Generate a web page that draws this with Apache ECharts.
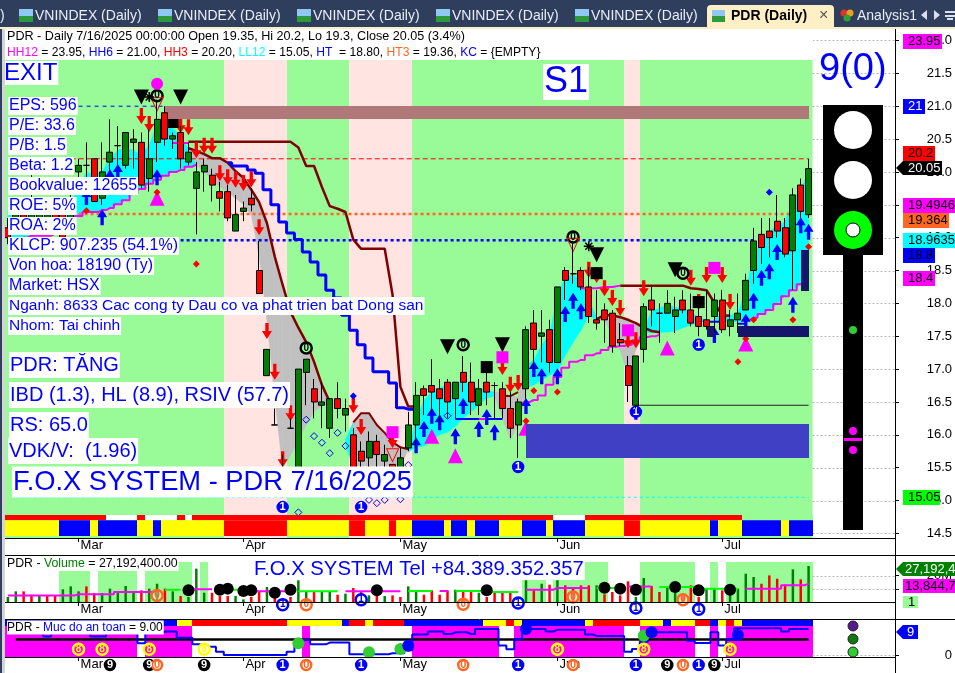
<!DOCTYPE html>
<html><head><meta charset="utf-8">
<style>html,body{margin:0;padding:0;background:#fff}#c{width:955px;height:673px}</style>
<script src="https://cdn.jsdelivr.net/npm/echarts@6/dist/echarts.min.js"></script>
</head><body><div id="c"></div>
<script>
// ---------- DATA ----------
const barCount = 103;
const monthIdx = [9,30,50,70,91];
const monthLabels = ['Mar','Apr','May','Jun','Jul'];
const priceTicks = [14.5,15,15.5,16,16.5,17,17.5,18,18.5,19,19.5,20,20.5,21,21.5,22];
const opens = [19.15,19.20,19.35,19.30,19.25,19.20,19.40,19.36,19.20,20.00,20.10,20.20,19.60,20.15,20.40,20.10,20.45,20.45,19.90,20.45,20.90,20.50,20.60,20.15,19.75,20.00,19.95,19.70,19.70,19.10,19.40,19.60,18.50,16.90,16.15,15.45,16.10,15.20,16.95,16.70,16.45,16.10,16.55,16.30,16.00,15.75,15.65,15.90,15.60,15.55,15.50,15.80,16.15,16.70,16.75,16.70,16.80,16.55,16.95,16.80,16.45,16.80,16.75,16.70,16.40,16.15,16.70,17.70,17.50,17.60,17.10,18.50,18.45,18.50,18.25,17.75,17.90,17.85,17.45,17.05,16.45,17.30,18.05,17.85,17.85,17.80,18.05,17.90,17.80,17.75,17.80,18.05,17.65,17.75,17.90,18.50,19.05,19.10,19.25,19.15,18.80,19.80,19.35];
const closes = [19.00,19.35,19.25,19.35,19.36,19.35,19.30,19.00,19.60,20.10,20.10,19.55,20.00,20.30,20.40,20.60,20.50,19.80,20.20,20.80,20.50,20.55,20.20,20.30,20.00,20.10,19.80,19.60,19.30,19.35,19.45,19.50,18.15,17.30,16.15,15.15,16.10,17.00,17.15,16.50,16.50,16.55,16.40,16.40,15.50,15.60,15.90,15.70,15.70,15.40,15.65,16.15,16.60,16.60,16.65,16.55,16.50,16.80,16.80,16.50,16.70,16.65,16.75,16.40,16.10,16.50,17.60,17.30,17.55,17.10,18.25,18.35,18.45,18.25,17.80,17.70,17.75,17.35,17.40,16.75,17.20,17.95,17.90,17.85,18.00,17.90,17.90,17.70,17.65,17.65,18.05,17.60,17.75,17.85,18.35,18.95,18.85,19.00,19.10,18.75,19.65,19.40,20.05];
const highs = [19.3,19.4,19.45,19.95,19.5,19.45,19.5,19.5,19.7,20.2,20.45,20.2,20.45,20.8,20.7,20.6,20.65,20.6,20.65,21.1,21.0,20.6,20.7,20.45,20.15,20.2,20.05,19.85,19.8,19.65,19.55,19.75,18.95,17.3,16.4,15.7,16.25,17.0,17.15,16.85,16.8,16.55,16.8,16.55,16.1,15.9,16.05,16.0,15.85,15.55,15.8,16.35,16.8,16.75,17.15,16.85,16.85,16.8,17.2,17.1,16.85,16.95,16.8,16.8,16.65,16.55,17.65,17.9,17.9,17.75,18.25,18.55,18.95,18.55,18.55,18.2,18.0,17.9,17.7,17.2,17.2,18.0,18.25,18.0,18.2,18.1,18.2,18.15,17.95,18.2,18.15,18.2,17.9,18.15,18.45,19.15,19.3,19.3,19.65,19.3,19.75,19.9,20.2];
const lows = [18.9,19.1,19.1,19.2,19.1,19.1,19.2,18.95,19.1,19.9,19.9,19.55,19.5,20.0,20.1,20.05,20.05,19.75,19.7,20.15,20.4,20.35,20.05,20.1,19.05,19.7,19.55,19.4,19.25,19.1,19.25,19.4,18.15,16.9,16.15,15.05,16.1,15.2,16.45,16.25,16.1,15.95,16.25,16.05,15.3,15.4,15.45,15.5,15.45,15.35,15.45,15.75,15.8,16.3,16.35,16.2,16.25,16.25,16.65,16.3,16.3,16.45,16.25,16.25,15.95,15.65,16.55,17.0,17.1,16.95,17.1,18.05,18.3,18.2,17.7,17.6,17.4,17.25,17.35,16.5,16.4,17.1,17.65,17.4,17.85,17.55,17.85,17.65,17.5,17.6,17.55,17.55,17.5,17.55,17.9,18.3,18.6,18.7,19.0,18.7,18.2,19.3,19.3];

// fills between the trend lines
const cyan1Top = [19.42,19.45,19.45,19.47,19.47,19.50,19.50,19.50,19.57,19.73,20.00,19.95,20.00,20.21,20.33,20.36,20.33,20.26,20.41,20.71,20.79,20.67,20.52,20.36,20.18];
const cyan1Bot = [18.92,18.97,19.00,19.03,19.03,19.03,19.06,19.12,19.24,19.33,19.39,19.39,19.42,19.45,19.51,19.57,19.67,19.74,19.82,19.88,19.94,20.00,20.03,20.08,20.11];
const gray1Top = [20.36,20.32,20.27,20.21,20.21,20.14,20.01,19.91,19.73,19.54,19.22,18.71,18.28,17.87,17.63,17.41,17.11,16.76,16.50];
const gray1Bot = [20.33,20.11,20.00,19.88,19.77,19.69,19.60,19.50,19.34,18.73,17.75,16.53,15.49,15.69,15.92,16.15,16.35,16.44,16.48];
const wedgeTop = [15.92,16.19];
const wedgeBot = [15.84,15.52];
const gray2Top = [16.19,16.33,16.33,16.15,16.03,15.89,15.81,15.78];
const gray2Bot = [15.52,15.52,15.52,15.52,15.52,15.52,15.52,15.77];
const cyan2Top = [15.78,16.23,16.53,16.65,16.71,16.76,16.79,16.80,16.76,16.71,16.68,16.65];
const cyan2Bot = [15.74,15.81,15.83,15.92,16.00,16.04,16.13,16.25,16.35,16.45,16.56,16.59];
const gray3Top = [16.65,16.65,16.59,16.57,17.14];
const gray3Bot = [16.59,16.25,15.92,16.15,16.60];
const cyan3Top = [17.06,17.14,17.37,17.52,18.11,18.40,18.43,18.36,18.05,17.78];
const cyan3Bot = [16.71,16.76,16.83,16.91,16.96,17.21,17.41,17.59,17.82,17.75];
const gray4Top = [17.76,17.82,17.82,17.79,17.75,17.70,17.63,17.58,17.56];
const gray4Bot = [17.73,17.75,17.52,17.29,16.91,17.29,17.56,17.56,17.55];
const cyan4Top = [17.63,17.87,17.93,17.97,17.94,17.93,17.87,17.78,17.75];
const cyan4Bot = [17.56,17.55,17.56,17.56,17.58,17.63,17.67,17.70,17.73];
const cyan5Top = [17.78,17.81,17.81,17.87,18.20,18.73,18.93,19.09,19.19,19.24,19.57,19.73,20.00];
const cyan5Bot = [17.73,17.72,17.72,17.72,17.75,17.78,17.84,17.90,17.99,18.11,18.20,18.29,18.36];

// trend lines
const risingLine2 = [16.48,16.50,16.53,16.60,16.76,16.88,17.02,17.11,17.14,17.21,17.24,17.29,17.34,17.35,17.37,17.44,17.49,17.50,17.52];
const risingLine3 = [17.75,17.78,17.84,17.90,17.99,18.11,18.20,18.29,18.36];
const upperDark1 = [20.46,20.46,20.46,20.46,20.46,20.46,20.46,20.46,20.46,20.46,20.46,20.46,20.46,20.46,20.37,20.09,20.09,19.77,19.48,19.44,19.39,18.97,18.83,18.83,18.83,18.83,18.13,16.73,16.43,16.43];
const upperDark2 = [16.59,16.59,16.65];
const upperDark3 = [18.27,18.27,18.27,18.27,18.27,18.27,18.27,18.27,18.27,18.23,18.22,18.20,18.01,17.82,17.81];
const upperMag1 = [20.44,20.44,20.44];
const upperMag2 = [18.23,18.23,18.23,18.25,18.25,18.27];
const stopBlue = [20.14,20.09,20.09,20.03,19.98,19.73,19.50,19.24,19.07,18.97,18.78,18.63,18.43,18.20,18.08,17.82,17.59,17.37,17.17,16.96,16.96,16.79,16.41,16.39,16.39];
const lowBlue1 = [16.24,16.24,16.24,16.24,16.24,16.24,16.24];
const lowMag = [16.24,16.24];
const lowBlue2 = [17.72,17.72,17.72];
const lowBlue3 = [17.69,17.69];

// level lines
const hh6 = 21.0, hh3 = 20.2, ht3 = 19.36, klcp = 18.96, ll12 = 15.05, baseLine = 16.45;

// markers: [bar, price]
const redArrows = [[17,20.85],[18,20.73],[22,20.71],[23,20.68],[24,20.33],[25,20.40],[26,20.40],[27,19.98],[28,19.92],[29,19.88],[30,19.83],[31,19.89],[32,19.16],[33,17.58],[34,16.96],[36,16.33],[35,15.63],[44,16.45],[45,16.12],[49,15.92],[63,17.03],[64,16.76],[65,16.79],[74,18.51],[75,18.43],[76,18.23],[77,18.08],[78,17.93],[79,17.44],[80,17.44],[81,18.23],[87,18.39],[88,18.02],[89,18.43],[91,18.43],[92,18.02]];
const blueArrows = [[10,19.62],[12,19.31],[13,19.92],[14,20.00],[15,19.77],[19,19.92],[52,15.84],[53,16.09],[54,16.29],[55,16.19],[57,15.98],[58,16.44],[60,16.09],[61,16.27],[62,16.04],[66,16.44],[67,17.00],[68,16.89],[70,16.89],[71,17.84],[72,18.04],[73,17.88],[80,16.35],[90,17.52],[94,17.72],[95,18.04],[96,18.39],[97,18.49],[98,18.78],[100,17.98],[101,19.19],[102,19.09]];
const magentaTriangles = [[19,19.60],[54,15.98],[57,15.68],[66,16.10],[84,17.32],[94,17.38]];
const blackTriangles = [[17,21.14],[22,21.14],[56,17.34],[63,17.37],[75,18.74],[85,18.51]];
const zeroCircles = [[19,21.16],[38,17.32],[58,17.37],[72,19.01],[86,18.46]];
const hollowTriangles = [[19,21.03],[49,15.69],[72,18.89]];
const magentaDots = [[19,21.34]];
const asterisks = [[18,21.14],[74,18.87]];
const blackSquares = [[21,20.76],[61,17.03],[75,18.46],[88,18.02]];
const magentaSquares = [[63,17.18],[49,16.04],[79,17.59],[90,18.54]];
const oneCircles = [[35,14.90],[45,14.90],[65,15.51],[80,16.35],[88,17.37]];
const hollowDiamonds = [[38,16.23],[39,15.98],[37,14.82],[40,15.88],[41,15.72],[42,16.03],[43,15.83],[56,16.29],[50,15.02],[51,15.54],[46,15.01],[47,14.96],[48,15.01]];
const blueDiamonds = [[44,16.59],[97,19.69]];
const redDiamonds = [[10,19.41],[24,18.60],[37,14.60],[67,16.67],[70,16.65],[66,16.21],[95,17.75],[100,17.75],[94,17.46],[102,18.86],[93,17.11],[19,19.69]];

// zones, as [first bar, end bar)
const pinkZones = [[28,36],[44,52],[79,81]];
const stripLowerEnds = [7,11,12,17,19,20,28,36,44,46,49,50,52,56,57,59,60,63,66,69,70,74,79,81,90,91,94,99,100,103];
const stripLowerStates = 'ybybybyryryrybybybybybyrybybyb';
const stripUpperEnds = [13,17,18,22,23,24,70,74,94,103];
const stripUpperStates = 'rwrwrwrwrg';

// volume, millions
const volumes = [3.8,8.05,8.05,5.5,5.0,4.5,5.0,9.6,11.8,8.05,11.8,6.8,6.8,10.1,8.05,12.1,8.05,8.8,10.1,13.8,10.1,8.05,4.5,3.8,25.2,7.0,7.0,4.5,4.5,4.5,2.0,3.8,7.55,11.3,3.8,3.0,3.8,16.4,7.55,7.55,7.55,7.55,5.5,6.3,10.6,8.05,5.0,5.0,4.5,5.0,3.8,11.8,8.05,5.5,8.8,5.5,8.8,9.3,7.55,8.05,7.0,3.8,7.55,7.55,7.55,3.8,16.4,8.8,13.8,13.1,16.4,12.6,10.1,12.6,12.6,12.6,5.8,7.55,5.0,15.6,3.8,18.1,12.1,7.55,10.6,13.8,5.0,12.6,3.8,10.1,10.1,8.8,5.5,10.1,21.4,18.9,13.8,20.1,17.6,13.1,24.7,17.1,27.19];
const redVolumeBars = [2,3,5,6,10,11,17,20,22,26,27,28,31,32,34,35,36,39,42,44,45,47,49,50,53,54,55,56,58,59,61,62,63,64,67,69,71,72,73,74,76,77,78,79,82,83,86,87,88,91,96,97,98,99,101];
const volumeAvg = [5,5,5,5,5,5,5,5,5,5.8,5.8,5.8,5.8,5.8,7.55,7.55,7.55,7.55,7.55,7.55,9.3,9.3,9.3,9.6,9.6,9.6,9.6,9.3,9.3,9.3,9.3,8.05,8.05,8.05,8.05,8.05,8.05,8.05,8.05,8.05,8.05,8.05,8.05,8.05,8.05,8.05,8.05,8.05,8.05,8.05,8.05,8.3,8.3,8.3,8.3,8.3,8.3,8.3,8.3,8.3,8.3,7.55,7.55,7.55,7.55,7.55,9.3,9.3,9.3,9.3,10.6,10.6,10.6,10.6,10.6,10.6,10.6,10.6,10.6,11.8,11.8,11.8,11.8,11.3,11.3,11.3,11.3,11.3,10.1,10.1,10.1,10.1,10.1,10.1,10.1,10.1,10.1,10.1,10.1,12.6,12.6,12.6,13.84];
const volumeAvgGreenBars = [20,21,22,27,28,29,30,37,38,39,40,41,42,51,52,53,54,57,58,59,60,61,62,63,64,65,75,76,77,78,83,84,85,86,87,88,89,90,91,92,93];
const volumeZones = [[7,11],[12,17],[18,24],[25,26],[66,69],[70,77],[81,88],[90,91],[92,103]];
const volumeDots = [[23,8.8],[27,9.3],[28,10.1],[30,8.3],[31,8.8],[34,7.0],[36,9.3],[47,8.8],[61,8.8],[76,10.8],[78,10.1],[80,9.3],[85,11.3],[88,8.8],[92,9.3]];
const volumeOnes = [[35,-2.0],[45,1.76],[65,-0.75],[80,-4.5],[88,-5.5]];
const volumeZeros = [[19,5.0],[38,-2.0],[58,-1.76],[72,3.8],[86,1.76]];

// safety panel
const safetyLine = [8.6,8.6,8.6,8.6,8.6,7.4,8.6,8.6,8.6,8.6,8.6,7.4,7.4,8.6,8.6,8.6,8.6,4.7,8.6,8.6,9.3,9.3,6.9,6.9,4.3,3.4,3.4,1.4,0.1,0.1,0.1,0.1,0.1,0.1,0.1,0.1,1.4,6,6,4.3,4.3,5,5,5,0.4,0.4,0.4,0.4,0.4,0.8,0.8,2,8.2,8.2,9.3,9.3,8.35,9,9,8.35,10.3,10.3,10.3,3.8,2.35,6.25,10.3,10.3,10.3,9.3,10.05,10.05,10.05,10.05,8.2,7.6,7.6,7.6,7.6,1.4,2.5,5.35,9,9,9,9,9,5.75,4.8,4.8,9,3.8,6.25,10.6,10.6,10.6,10.6,10.6,10.6,9.3,10.3,10.3,10.3];
const safetyLevel = 6.2;
const safetyZones = [[0,17],[18,24],[38,39],[52,63],[65,79],[81,88],[90,91],[92,103]];
const safetyStripEnds = [22,24,36,43,44,46,47,51,61,64,65,66,74,75,81,84,85,88,90,91,92,93,94,103];
const safetyStripStates = 'byrybryrbyrybyrybyrbyryb';
const safetyGreen = [[37,4.7],[46,1.17],[50,2.47],[81,7.7]];
const safetyBlue = [[51,3.78],[66,10.3],[82,9.0],[93,7.96]];
const safetyEights = [[9,2.35],[12,2.35],[18,2.35],[70,2.35],[81,2.35],[92,2.35]];
const safetyEightsLight = [[25,2.35]];
const safetyNines = [[13,-3.8],[18,-3.8],[25,-3.8],[84,-3.8],[90,-3.8]];
const safetyZeros = [[19,-3.8],[38,-3.8],[58,-3.8],[72,-3.8],[86,-3.8]];
const safetyOnes = [[35,-3.8],[45,-3.8],[65,-3.8],[80,-3.8],[88,-3.8]];

// price boxes: [first bar, last bar, low, high]
const brownBox = [20,102,20.8,21.0];
const indigoBox = [66,102,15.65,16.16];
const navyBoxes = [[93,102,17.49,17.66],[101,102,18.19,18.81],[89,90,17.49,17.66]];

// ---------- BUILD ----------
const RED='#FF0000',GRN='#008000',BLU='#0000FF',MAG='#FF00FF',CYN='#00FFFF',YEL='#FFFF00',DRED='#800000';
const FONT='"Liberation Sans",Arial,sans-serif';
const cats = Array.from({length:barCount},(_,i)=>String(i));
const seq=(start,vals)=>vals.map((v,k)=>[start+k,v]);
const toRuns=(ends,states)=>{let s=0;return ends.map((e,k)=>{const r=[s,e,states[k]];s=e;return r;});};
const stateColor={y:YEL,b:BLU,r:RED,w:'#FFFFFF',g:'#98FB98'};

function runSeries(grid,runs,lo,hi,color,z){
  const list=runs.map(r=>({s:r[0],e:r[1],c:typeof color==='function'?color(r):color}));
  return {type:'custom',xAxisIndex:grid,yAxisIndex:grid,z,silent:true,
    data:list.map(r=>[r.s,lo]),
    renderItem:(p,api)=>{
      const r=list[p.dataIndex],b=api.size([1,0])[0];
      const x0=Math.round(api.coord([r.s,lo])[0]-b/2),x1=Math.round(api.coord([r.e-1,lo])[0]+b/2);
      const y1=api.coord([r.s,lo])[1],y0=api.coord([r.s,hi])[1];
      return {type:'rect',shape:{x:x0,y:y0,width:x1-x0,height:y1-y0},style:{fill:r.c}};
    }};
}
function bandSeries(start,top,bot,color){
  const segs=[];for(let k=0;k<top.length-1;k++)segs.push(k);
  return {type:'custom',xAxisIndex:0,yAxisIndex:0,z:2,silent:true,
    data:segs.map(k=>[start+k,top[k]]),
    renderItem:(p,api)=>{
      const k=segs[p.dataIndex],i=start+k;
      return {type:'polygon',shape:{points:[api.coord([i,top[k]]),api.coord([i+1,top[k+1]]),api.coord([i+1,bot[k+1]]),api.coord([i,bot[k]])]},style:{fill:color,stroke:color,lineWidth:0.5}};
    }};
}
function boxSeries(boxes,color){
  return {type:'custom',xAxisIndex:0,yAxisIndex:0,z:5,silent:true,
    data:boxes.map(b=>[b[0],b[2]]),
    renderItem:(p,api)=>{
      const b=boxes[p.dataIndex],a=api.coord([b[0],b[3]]),c=api.coord([b[1],b[2]]);
      return {type:'rect',shape:{x:Math.round(a[0]),y:Math.round(a[1]),width:Math.round(c[0]-a[0]),height:Math.round(c[1]-a[1])},style:{fill:color}};
    }};
}
function line(data,color,width,opt){
  return Object.assign({type:'line',xAxisIndex:0,yAxisIndex:0,data,z:3,silent:true,showSymbol:false,symbol:'none',
    lineStyle:{color,width,cap:'butt'},animation:false},opt||{});
}
function level(v,a,b,color,width,dash){
  return line([[a,v],[b,v]],color,width,{lineStyle:{color,width,type:dash||'solid',cap:'butt'}});
}
function sym(data,symbol,size,style,extra){
  return Object.assign({type:'scatter',xAxisIndex:0,yAxisIndex:0,data,symbol,symbolSize:size,z:4,silent:true,clip:false,
    itemStyle:Object.assign({opacity:1},style)},extra||{});
}
function numbered(data,txt,fill,ring,tc,size,grid,fs){
  return sym(data,'circle',size,{color:fill,borderColor:ring,borderWidth:2.5},{xAxisIndex:grid,yAxisIndex:grid,z:grid?8:4,
    label:{show:true,position:'inside',formatter:txt,color:tc,fontWeight:'bold',fontSize:fs||11,fontFamily:FONT}});
}
function gridLines(grid,vals){
  return {type:'custom',xAxisIndex:grid,yAxisIndex:grid,z:1,silent:true,
    data:vals.map(v=>[0,v]),
    renderItem:(p,api)=>{
      const y=Math.round(api.coord([0,vals[p.dataIndex]])[1])+0.5,cs=p.coordSys;
      return {type:'line',shape:{x1:cs.x+cs.width,y1:y,x2:895,y2:y},style:{stroke:'#B8B8B8',lineWidth:1,lineDash:[2,2]}};
    }};
}
const arrowDown='path://M3 0H6V8H9L4.5 16L0 8H3Z';
const arrowUp='path://M4.5 0L9 8H6V16H3V8H0Z';
const triUp='path://M5 0L10 10H0Z';
const triDown='path://M0 0H10L5 12Z';
const star='path://M5 0V10M0 5H10M1.5 1.5L8.5 8.5M8.5 1.5L1.5 8.5';

const series=[];
series.push(runSeries(0,pinkZones,14.43,22.19,'#FFE4E1',1));
series.push(bandSeries(0,cyan1Top,cyan1Bot,CYN));
series.push(bandSeries(23,gray1Top,gray1Bot,'#C0C0C0'));
series.push(bandSeries(43,wedgeTop,wedgeBot,CYN));
series.push(bandSeries(44,gray2Top,gray2Bot,'#C0C0C0'));
series.push(bandSeries(51,cyan2Top,cyan2Bot,CYN));
series.push(bandSeries(62,gray3Top,gray3Bot,'#C0C0C0'));
series.push(bandSeries(66,cyan3Top,cyan3Bot,CYN));
series.push(bandSeries(75,gray4Top,gray4Bot,'#C0C0C0'));
series.push(bandSeries(81,cyan4Top,cyan4Bot,CYN));
series.push(bandSeries(90,cyan5Top,cyan5Bot,CYN));
series.push(level(hh6,9,20,BLU,1,[4,4]));
series.push(level(hh3,8,102,RED,1,[5,3]));
series.push(level(ht3,9,100,'#FF6622',2.5,[3,3]));
series.push(level(klcp,22,95,BLU,2.5,[3,3]));
series.push(level(ll12,1,102,CYN,1,[3,3]));
series.push(level(baseLine,80,102,'#222222',1));
const S={step:'middle'};
series.push(line(seq(0,cyan1Bot),MAG,2,S));
series.push(line(seq(65,risingLine2),MAG,2,S));
series.push(line(seq(94,risingLine3),MAG,2,S));
series.push(line(seq(23,gray1Top),DRED,2.5));
series.push(line(seq(44,gray2Top),DRED,2));
series.push(line(seq(75,gray4Top),DRED,2.5));
series.push(line(seq(23,upperDark1),DRED,2.5));
series.push(line(seq(63,upperDark2),DRED,2));
series.push(line(seq(78,upperDark3),DRED,2.5));
series.push(line(seq(21,upperMag1),MAG,2));
series.push(line(seq(73,upperMag2),MAG,2));
series.push(line(seq(28,stopBlue),BLU,3,S));
series.push(line(seq(57,lowBlue1),BLU,2));
series.push(line(seq(60,lowMag),MAG,2));
series.push(line(seq(89,lowBlue2),BLU,2));
series.push(line(seq(93,lowBlue3),BLU,2));
series.push(sym(redArrows,arrowDown,[10,16],{color:RED}));
series.push(sym(blueArrows,arrowUp,[10,16],{color:BLU}));
series.push(sym(magentaTriangles,triUp,[15,15],{color:MAG}));
series.push(sym(blackTriangles,triDown,[15,15],{color:'#000'}));
series.push(numbered(zeroCircles,'0','#98FB98','#000','#000',11,0,10));
series.push(sym(hollowTriangles,triDown,[12,13],{color:'rgba(0,0,0,0)',borderColor:RED,borderWidth:1}));
series.push(sym(magentaDots,'circle',12,{color:MAG}));
series.push(sym(asterisks,star,[10,10],{color:'rgba(0,0,0,0)',borderColor:'#000',borderWidth:1.5}));
series.push(sym(blackSquares,'rect',12,{color:'#000'}));
series.push(sym(magentaSquares,'rect',12,{color:MAG}));
series.push(sym(hollowDiamonds,'diamond',7,{color:'rgba(0,0,0,0)',borderColor:BLU,borderWidth:1}));
series.push(sym(blueDiamonds,'diamond',7,{color:BLU}));
series.push(sym(redDiamonds,'diamond',7,{color:RED}));
series.push(numbered(oneCircles,'1',BLU,BLU,'#fff',10,0,11));
series.push(boxSeries([brownBox],'#B07878'));
series.push(boxSeries([indigoBox],'#4040C4'));
series.push(boxSeries(navyBoxes,'#15156B'));
series.push({type:'candlestick',xAxisIndex:0,yAxisIndex:0,z:6,silent:true,barWidth:6.5,
  data:opens.map((o,i)=>[o,closes[i],lows[i],highs[i]]),
  itemStyle:{color:GRN,color0:RED,borderColor:'#000',borderColor0:'#000',borderColorDoji:'#000',borderWidth:1}});
series.push(runSeries(0,toRuns(stripUpperEnds,stripUpperStates),14.70,14.78,r=>stateColor[r[2]],7));
series.push(runSeries(0,toRuns(stripLowerEnds,stripLowerStates),14.46,14.70,r=>stateColor[r[2]],7));
series.push(gridLines(0,priceTicks));
// volume panel
series.push(runSeries(1,volumeZones,0,30.2,'#98FB98',1));
series.push(gridLines(1,[10,20]));
series.push({type:'bar',xAxisIndex:1,yAxisIndex:1,z:3,silent:true,barWidth:2.5,
  data:volumes.map((v,i)=>({value:v,itemStyle:{color:redVolumeBars.includes(i)?RED:GRN}}))});
series.push(line(volumeAvg.map((v,i)=>volumeAvgGreenBars.includes(i)?null:[i,v]),MAG,2,{xAxisIndex:1,yAxisIndex:1,z:4,step:'middle',connectNulls:false}));
series.push(line(volumeAvg.map((v,i)=>volumeAvgGreenBars.includes(i)?[i,v]:null),'#00FF00',2,{xAxisIndex:1,yAxisIndex:1,z:4,step:'middle',connectNulls:false}));
series.push(sym(volumeDots,'circle',12,{color:'#000'},{xAxisIndex:1,yAxisIndex:1,z:5}));
series.push(numbered(volumeOnes,'1','#fff',BLU,BLU,11,1,10));
series.push(numbered(volumeZeros,'0','rgba(255,255,255,0.4)','#FF6622','#FF6622',11,1,10));
// safety panel
series.push(runSeries(2,safetyZones,-0.67,11.5,MAG,1));
series.push(runSeries(2,toRuns(safetyStripEnds,safetyStripStates),11.5,13.84,r=>stateColor[r[2]],2));
series.push(gridLines(2,[0]));
series.push(line([[1,safetyLevel],[102,safetyLevel]],'#000',2.5,{xAxisIndex:2,yAxisIndex:2,z:3}));
series.push(line(seq(0,safetyLine),BLU,2,{xAxisIndex:2,yAxisIndex:2,z:4,step:'middle'}));
series.push(sym(safetyGreen,'circle',12,{color:'#32CD32'},{xAxisIndex:2,yAxisIndex:2,z:5}));
series.push(sym(safetyBlue,'circle',12,{color:BLU},{xAxisIndex:2,yAxisIndex:2,z:5}));
series.push(numbered(safetyEights,'8',MAG,YEL,YEL,11,2,10));
series.push(numbered(safetyEightsLight,'8','#fff',YEL,YEL,11,2,10));
series.push(numbered(safetyNines,'9','#000','#000','#fff',10,2,11));
series.push(numbered(safetyZeros,'0','#fff','#FF6622','#FF6622',10,2,11));
series.push(numbered(safetyOnes,'1',BLU,BLU,'#fff',10,2,11));

const xAxisOf=g=>({type:'category',gridIndex:g,data:cats,boundaryGap:true,
  axisLine:{onZero:false,lineStyle:{color:'#000',width:1}},
  axisTick:{show:true,alignWithLabel:true,length:4,lineStyle:{color:'#000'},interval:i=>monthIdx.includes(i)},
  axisLabel:{show:true,interval:i=>monthIdx.includes(i),formatter:(v,i)=>monthLabels[monthIdx.indexOf(+v)]||'',align:'left',margin:1,padding:[0,0,0,2],fontSize:13,color:'#000',fontFamily:FONT},
  splitLine:{show:false}});
const yAxisOf=(g,min,max,ticks,fmt)=>({type:'value',gridIndex:g,position:'right',offset:82.5,min,max,
  axisLine:{show:true,onZero:false,lineStyle:{color:'#000'}},
  axisTick:{show:true,length:4,customValues:ticks,lineStyle:{color:'#000'}},
  axisLabel:{show:true,customValues:ticks,formatter:fmt,align:'right',margin:57,fontSize:13,color:'#000',fontFamily:FONT},
  splitLine:{show:false}});

const g=[];
const rect=(x,y,w,h,fill,z)=>g.push({type:'rect',silent:true,z:z||50,shape:{x,y,width:w,height:h},style:{fill}});
const circ=(cx,cy,r,fill,stroke)=>g.push({type:'circle',silent:true,z:52,shape:{cx,cy,r},style:{fill,stroke:stroke||null,lineWidth:stroke?1:0}});
const hl=(x1,x2,y)=>g.push({type:'line',silent:true,z:49,shape:{x1,y1:y,x2,y2:y},style:{stroke:'#000',lineWidth:1}});
const txt=(x,y,text,size,fill,opt)=>{opt=opt||{};g.push({type:'text',silent:true,z:opt.z||55,x,y,style:Object.assign({text,fill,font:(opt.bold?'bold ':'')+size+'px '+FONT,verticalAlign:'middle',align:opt.align||'left'},opt.box?{backgroundColor:opt.box,padding:opt.pad||[1,1,1,1]}:{},opt.rich?{rich:opt.rich}:{})});};
rect(0,0,955,27,'#2F3E5C',60);
rect(0,27,955,2,'#FFEFC4',60);
['VNINDEX (Daily)','VNINDEX (Daily)','VNINDEX (Daily)','VNINDEX (Daily)','VNINDEX (Daily)'].forEach((t,k)=>{
  const x=35+139*k;
  rect(x-16,9,14,7,'#8FC8F0',61);rect(x-16,16,14,6,'#2E9A3E',61);
  txt(x,16,t,14,'#E8EEF8',{z:61});
});
txt(0,16,')',14,'#E8EEF8',{z:61});
g.push({type:'rect',silent:true,z:60,shape:{x:707,y:5,width:127,height:24,r:[4,4,0,0]},style:{fill:'#FFEFC4'}});
rect(712,10,13,6,'#8FC8F0',61);rect(712,16,13,6,'#2E9A3E',61);
txt(731,16,'PDR (Daily)',14,'#000',{bold:true,z:61});
txt(819,16,'×',16,'#555',{z:61});
[[844,13,'#E03030'],[850,13,'#E8A020'],[847,18,'#30A030']].forEach(a=>g.push({type:'circle',silent:true,z:61,shape:{cx:a[0],cy:a[1],r:3.5},style:{fill:a[2]}}));
txt(857,16,'Analysis1',14,'#E8EEF8',{z:61});
g.push({type:'polygon',silent:true,z:62,shape:{points:[[927,10],[927,20],[921,15]]},style:{fill:'#D8E0F0'}});
g.push({type:'polygon',silent:true,z:62,shape:{points:[[934,10],[934,20],[940,15]]},style:{fill:'#D8E0F0'}});
rect(945,11,10,2,'#D8E0F0',62);rect(945,15,10,2,'#D8E0F0',62);rect(947,18,6,2,'#D8E0F0',62);
rect(0,29,2,644,'#2F3E5C',60);rect(2,29,3,644,'#D4D4D4',60);
rect(5,29,808,31,'#FFFFFF',50);
txt(7,37,'PDR - Daily 7/16/2025 00:00:00 Open 19.35, Hi 20.2, Lo 19.3, Close 20.05 (3.4%)',12.6,'#000');
txt(7,53,'{m|HH12} = 23.95, {b|HH6} = 21.00, {r|HH3} = 20.20, {c|LL12} = 15.05, {b|HT}  = 18.80, {o|HT3} = 19.36, {b|KC} = {k|\u200B{EMPTY\u200B}}',12.1,'#000',{rich:{m:{fill:MAG},b:{fill:BLU},r:{fill:RED},c:{fill:CYN},o:{fill:'#FF6622'},k:{fill:'#000'}}});
txt(4,73,'EXIT',24,BLU,{box:'#fff',pad:[0,1,0,0]});
txt(543,82,'S1',36,BLU,{box:'#fff',pad:[0,1,0,1]});
[['EPS: 596',106,16],['P/E: 33.6',126,16],['P/B: 1.5',146,16],['Beta: 1.2',166,16],['Bookvalue: 12655',186,16],['ROE: 5%',206,16],['ROA: 2%',226,16],['KLCP: 907.235 (54.1%)',246,16],['Von hoa: 18190 (Ty)',266,16],['Market: HSX',286,16],['Nganh: 8633 Cac cong ty Dau co va phat trien bat Dong san',306,15.5],['Nhom: Tai chinh',326,15.5]].forEach(a=>txt(8,a[1],a[0],a[2],BLU,{box:'#fff',pad:[1,1,1,1]}));
[['PDR: TĂNG',365,9],['IBD (1.3), HL (8.9), RSIV (57.7)',395,9],['RS: 65.0',425,9],['VDK/V:  (1.96)',451,8]].forEach(a=>txt(a[2],a[1],a[0],20,BLU,{box:'#fff',pad:[3,1,3,1]}));
txt(12,482,'F.O.X SYSTEM - PDR 7/16/2025',27.3,BLU,{box:'#fff',pad:[2,1,2,1]});
txt(253,569,'F.O.X SYSTEM Tel +84.389.352.357',20.3,BLU,{box:'#fff',pad:[1,1,1,1]});
txt(7,564,'PDR - {g|Volume} = 27,192,400.00',12.3,'#000',{box:'#fff',pad:[1,1,1,0],rich:{g:{fill:'#008000'}}});
txt(7,627.5,'PDR - {b|Muc do an toan} = 9.00',12,'#000',{box:'#fff',pad:[1,1,1,0],rich:{b:{fill:BLU}}});
hl(4,895,538.5);hl(4,955,555.5);hl(4,895,602.5);hl(4,955,619.5);hl(4,895,657.5);
g.push({type:'line',silent:true,z:49,shape:{x1:895.5,y1:29,x2:895.5,y2:673},style:{stroke:'#000',lineWidth:1}});
txt(819,70,'9(0)',38,BLU);
rect(823,105,60,150,'#000',51);rect(843,255,20,275,'#000',51);
circ(853,130,19,'#fff');circ(853,180,19,'#fff');circ(853,230,19,'#00FF00');circ(853,230,7,'#fff','#000');
circ(853,330,4,'#32CD32');circ(853,431,4,MAG);circ(853,450,4,MAG);rect(844,438,18,3,MAG,53);
circ(853,626,5,'#551A8B','#222');circ(853,639,5,'#0F7A0F','#222');circ(853,652,5,'#32CD32','#222');
[['23.95',41,39,MAG,'#000'],['21',106,22,BLU,'#fff'],['20.2',153,32,RED,'#000'],['19.4946',205,52,MAG,'#000'],['19.364',220,46,'#FF6622','#000'],['18.9635',240,52,CYN,'#000'],['18.8',255,32,BLU,'#000'],['18.4',278,32,MAG,'#000'],['15.05',497,37,'#00FF00','#000']].forEach(a=>{
  rect(903,a[1]-7,a[2],15,a[3],56);txt(908,a[1]+0.5,a[0],13,a[4],{z:57});
});
const ptr=(y,x1,fill,h)=>g.push({type:'polygon',silent:true,z:56,shape:{points:[[896,y],[903,y-h],[x1,y-h],[x1,y+h],[903,y+h]]},style:{fill}});
ptr(168,942,'#000',7);txt(908,168.5,'20.05',13,'#fff',{z:57});
ptr(569,955,'#008000',7);txt(905,569.5,'27,192,40',13,'#fff',{z:57});
rect(903,579,52,14,MAG,56);txt(905,586,'13,844,73',13,'#000',{z:57});
rect(903,596,15,12,'#98FB98',56);txt(908,602,'1',13,'#000',{z:57});
ptr(632,918,BLU,7);txt(907,632.5,'9',13,'#fff',{z:57});

const chart=echarts.init(document.getElementById('c'),null,{renderer:'canvas'});
chart.setOption({
  animation:false,backgroundColor:'#fff',tooltip:{show:false},
  grid:[
    {left:4,top:28,width:808.5,height:510,show:true,backgroundColor:'#98FB98',borderWidth:0},
    {left:4,top:555,width:808.5,height:47},
    {left:4,top:619,width:808.5,height:38}
  ],
  xAxis:[xAxisOf(0),xAxisOf(1),xAxisOf(2)],
  yAxis:[
    yAxisOf(0,14.43,22.19,priceTicks,v=>v.toFixed(1)),
    yAxisOf(1,0,35.5,[10,20],v=>v+'M'),
    yAxisOf(2,-0.67,14.24,[0],v=>String(v))
  ],
  series,
  graphic:{elements:g}
});
</script></body></html>
